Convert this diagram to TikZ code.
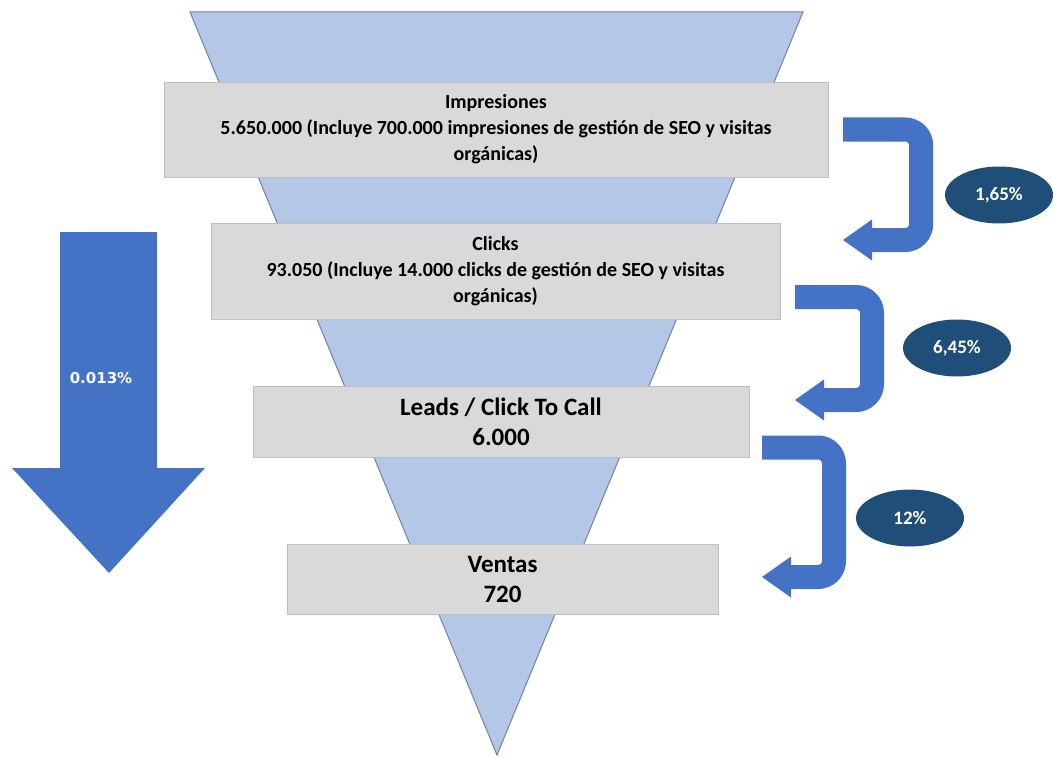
\documentclass[tikz,border=0pt]{standalone}
\usepackage{fontspec}
\setmainfont{Carlito}
\newfontfamily\anchafont{DejaVu Sans}
\usepackage{tikz}
\usetikzlibrary{shapes.geometric, arrows.meta, positioning}
\definecolor{embudoRelleno}{HTML}{B4C7E7}
\definecolor{embudoBorde}{HTML}{6F83A6}
\definecolor{cajaRelleno}{HTML}{D9D9D9}
\definecolor{cajaBorde}{HTML}{BFBFBF}
\definecolor{colorFlecha}{HTML}{4472C4}
\definecolor{colorTasa}{HTML}{1F4E79}

\begin{document}
\begin{tikzpicture}[x=1pt, y=-1pt,
        etapa/.style={draw=cajaBorde, fill=cajaRelleno, inner sep=0pt, align=center,
            font=\bfseries\fontsize{20}{26}\selectfont},
        grande/.style={font=\bfseries\fontsize{25}{30}\selectfont},
        flecha/.style={colorFlecha, line width=24pt, rounded corners=16pt,
            -{Triangle[length=29pt, width=41pt, line width=0pt]}},
        tasa/.style={ellipse, fill=colorTasa, text=white, minimum width=108pt,
            minimum height=57pt, inner sep=0pt, font=\bfseries\fontsize{19}{22}\selectfont}
    ]
        \useasboundingbox (0,0) rectangle (1054,757);
        % embudo
        \filldraw[fill=embudoRelleno, draw=embudoBorde, line width=1pt]
            (190,12) -- (803,12) -- (497,755) -- cycle;
        % etapas
        \node[etapa, minimum width=664pt, minimum height=95pt] (imp) at (496,129.5)
            {Impresiones\\5.650.000 (Incluye 700.000 impresiones de gestión de SEO y visitas\\orgánicas)};
        \node[etapa, minimum width=569pt, minimum height=96pt] (clk) at (495.5,271)
            {Clicks\\93.050 (Incluye 14.000 clicks de gestión de SEO y visitas\\orgánicas)};
        \node[etapa, grande, minimum width=496pt, minimum height=71pt] (lead) at (501,421.5)
            {Leads / Click To Call\\6.000};
        \node[etapa, grande, minimum width=431pt, minimum height=70pt] (vta) at (502.5,579)
            {Ventas\\720};
        % flechas entre etapas
        \coordinate (s1) at ([xshift=15pt]imp.east);
        \coordinate (e1) at (843,240);
        \coordinate (s2) at (795,297);
        \coordinate (e2) at (795,400);
        \coordinate (s3) at (762,447.5);
        \coordinate (e3) at (762,577);
        \draw[flecha] (s1) -- ++(78,0) |- (e1);
        \draw[flecha] (s2) -- ++(77,0) |- (e2);
        \draw[flecha] (s3) -- ++(72,0) |- (e3);
        \node[tasa] (t1) at (999,195) {1,65\%};
        \node[tasa] (t2) at (957,348) {6,45\%};
        \node[tasa] (t3) at (910,518) {12\%};
        % conversion total
        \fill[colorFlecha] (60,232) -- (157,232) -- (157,468) -- (205,468) -- (109,573)
            -- (12,468) -- (60,468) -- cycle;
        \node[text=white, font=\anchafont\bfseries\fontsize{15}{18}\selectfont] (total) at (101,378) {0.013\%};
    \end{tikzpicture}
\end{document}
